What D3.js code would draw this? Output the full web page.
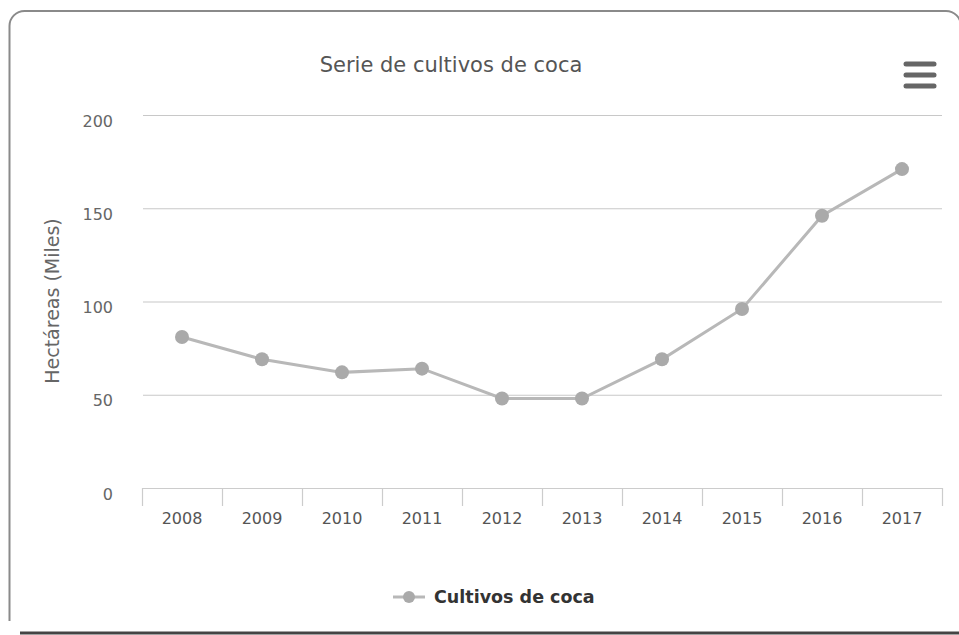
<!DOCTYPE html>
<html>
<head>
<meta charset="utf-8">
<script src="https://cdn.jsdelivr.net/npm/d3@7"></script>
<style>
    body { margin: 0; background: #fff; }
    svg { display: block; font-family: "DejaVu Sans", sans-serif; }
</style>
</head>
<body>
<script>

const years = ['2008', '2009', '2010', '2011', '2012', '2013', '2014', '2015', '2016', '2017'];
const hectareas = [81, 69, 62, 64, 48, 48, 69, 96, 146, 171];
const yTicks = [0, 50, 100, 150, 200];

const width = 959;
const height = 635;
const plotLeft = 142;
const plotRight = 942;
const plotTop = 115;
const plotBottom = 488;
const fontFamily = '"DejaVu Sans", sans-serif';

const svg = d3.select('body')
                .append('svg')
                .attr('width', width)
                .attr('height', height);

// marco redondeado
svg.append('path')
    .attr('d', 'M9.5,621 V26 A15,15 0 0 1 24.5,11 H946 A15,15 0 0 1 961,26')
    .attr('fill', 'none')
    .attr('stroke', '#8a8a8a')
    .attr('stroke-width', 2);

svg.append('line')
    .attr('x1', 20).attr('x2', 959)
    .attr('y1', 633).attr('y2', 633)
    .attr('stroke', '#444')
    .attr('stroke-width', 3);

const xScale = d3.scaleBand()
                .domain(years)
                .range([plotLeft, plotRight]);

const yScale = d3.scaleLinear()
                .domain([0, 200])
                .range([plotBottom, plotTop]);

// titulo
svg.append('text')
    .attr('x', 451)
    .attr('y', 72)
    .attr('text-anchor', 'middle')
    .style('font-size', '21px')
    .style('fill', '#555')
    .text('Serie de cultivos de coca');

// menu
[64, 75, 86].forEach((y) => {
    svg.append('line')
        .attr('x1', 906).attr('x2', 934)
        .attr('y1', y).attr('y2', y)
        .attr('stroke', '#666')
        .attr('stroke-width', 5)
        .attr('stroke-linecap', 'round');
});

// grid
svg.append('g')
    .selectAll('line')
    .data(yTicks.filter((d) => d > 0))
    .enter()
    .append('line')
    .attr('x1', plotLeft + 1)
    .attr('x2', plotRight)
    .attr('y1', (d) => yScale(d) + 0.5)
    .attr('y2', (d) => yScale(d) + 0.5)
    .attr('stroke', '#c8c8c8')
    .attr('stroke-width', 1.2);

const yAxis = d3.axisLeft(yScale)
                .tickValues(yTicks)
                .tickSize(0)
                .tickPadding(0);

svg.append('g')
    .attr('id', 'y-axis')
    .attr('transform', 'translate(113, 6)')
    .call(yAxis)
    .attr('font-family', fontFamily)
    .call((g) => g.select('.domain').remove())
    .selectAll('text')
    .style('font-size', '16px')
    .style('fill', '#666');

const xAxis = d3.axisBottom(xScale)
                .tickSize(0)
                .tickPadding(24);

svg.append('g')
    .attr('id', 'x-axis')
    .attr('transform', 'translate(0,' + (plotBottom + 0.5) + ')')
    .call(xAxis)
    .attr('font-family', fontFamily)
    .call((g) => g.select('.domain').attr('stroke', '#ccc').attr('stroke-width', 1.2).attr('d', 'M' + plotLeft + ',0H' + plotRight))
    .selectAll('text')
    .style('font-size', '16px')
    .style('fill', '#555');

// separadores de categorias
svg.append('g')
    .selectAll('line')
    .data(years.concat(['end']))
    .enter()
    .append('line')
    .attr('x1', (d, i) => plotLeft + i * xScale.bandwidth() + 0.5)
    .attr('x2', (d, i) => plotLeft + i * xScale.bandwidth() + 0.5)
    .attr('y1', plotBottom)
    .attr('y2', plotBottom + 18)
    .attr('stroke', '#ccc')
    .attr('stroke-width', 1.2);

svg.append('text')
    .attr('transform', 'translate(59, 301) rotate(-90)')
    .attr('text-anchor', 'middle')
    .style('font-size', '19px')
    .style('fill', '#666')
    .text('Hectáreas (Miles)');

const line = d3.line()
                .x((d, i) => xScale(years[i]) + xScale.bandwidth() / 2)
                .y((d) => yScale(d));

svg.append('path')
    .datum(hectareas)
    .attr('d', line)
    .attr('fill', 'none')
    .attr('stroke', '#b8b8b8')
    .attr('stroke-width', 3);

svg.selectAll('circle.dot')
    .data(hectareas)
    .enter()
    .append('circle')
    .attr('class', 'dot')
    .attr('cx', (d, i) => xScale(years[i]) + xScale.bandwidth() / 2)
    .attr('cy', (d) => yScale(d))
    .attr('r', 7)
    .style('fill', '#aaa');

// leyenda
svg.append('line')
    .attr('x1', 393).attr('x2', 425)
    .attr('y1', 597).attr('y2', 597)
    .attr('stroke', '#b8b8b8')
    .attr('stroke-width', 3);

svg.append('circle')
    .attr('cx', 409)
    .attr('cy', 597)
    .attr('r', 6)
    .style('fill', '#aaa');

svg.append('text')
    .attr('x', 434)
    .attr('y', 603)
    .style('font-size', '17.5px')
    .style('font-weight', 'bold')
    .style('fill', '#333')
    .text('Cultivos de coca');

</script>
</body>
</html>
